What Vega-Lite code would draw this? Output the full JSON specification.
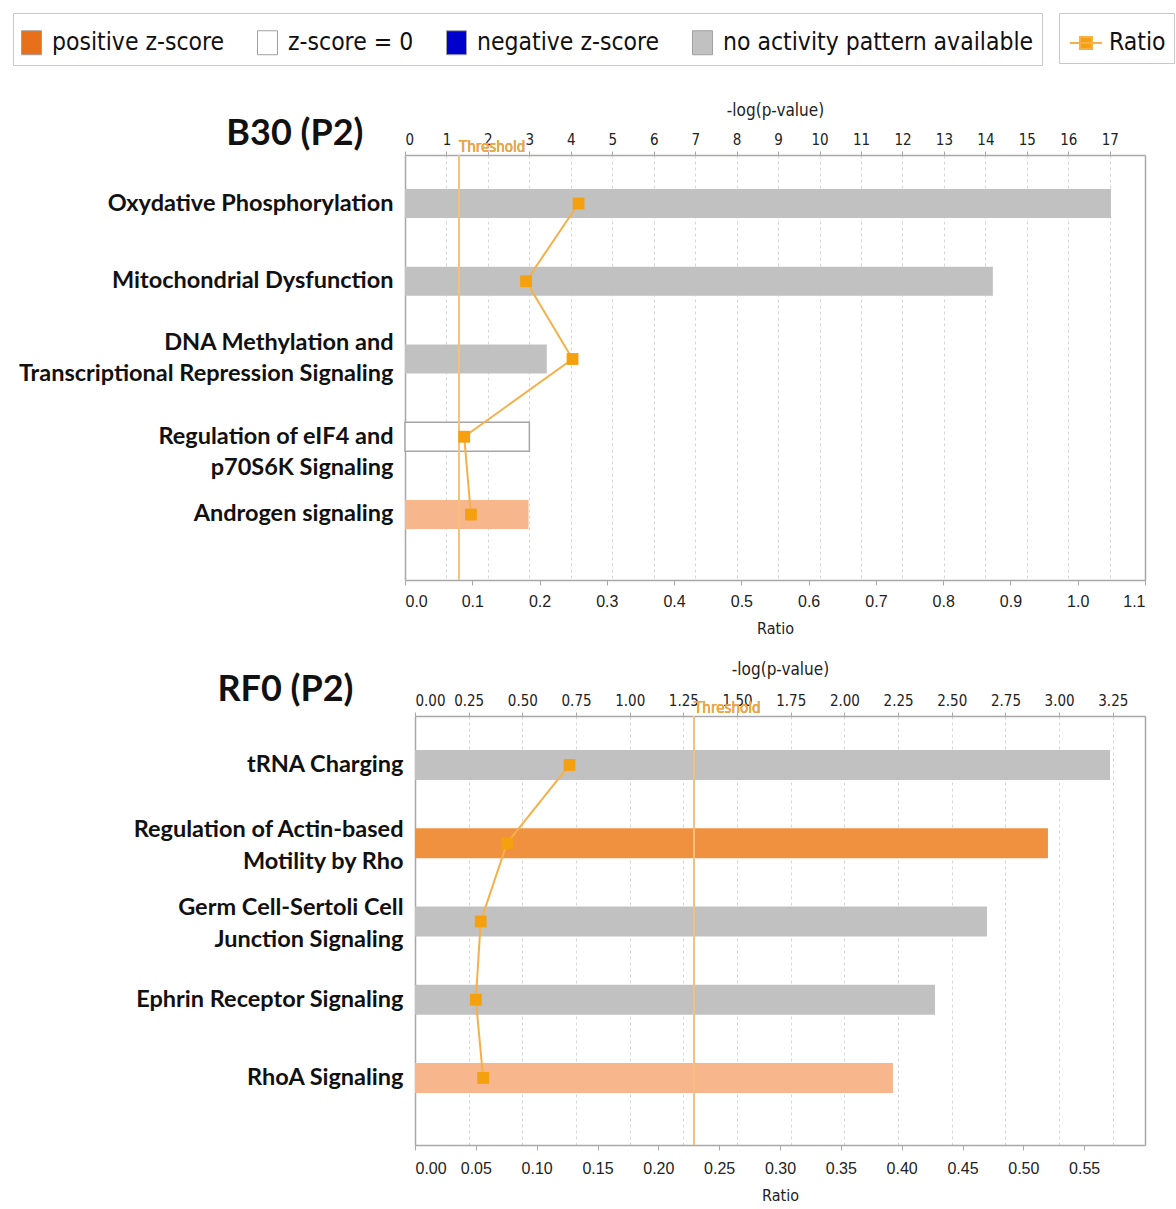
{
  "$schema": "https://vega.github.io/schema/vega-lite/v6.json",
  "background": "white",
  "padding": {"left": 12, "top": 12, "right": 3, "bottom": 4},
  "datasets": {
    "b30": [
      {"pathway": "Oxydative Phosphorylation", "neglogp": 17.03, "ratio": 0.258, "category": "no activity pattern available"},
      {"pathway": "Mitochondrial Dysfunction", "neglogp": 14.18, "ratio": 0.180, "category": "no activity pattern available"},
      {"pathway": "DNA Methylation and Transcriptional Repression Signaling", "neglogp": 3.42, "ratio": 0.249, "category": "no activity pattern available"},
      {"pathway": "Regulation of eIF4 and p70S6K Signaling", "neglogp": 3.0, "ratio": 0.088, "category": "z-score = 0", "zscore": 0},
      {"pathway": "Androgen signaling", "neglogp": 2.98, "ratio": 0.098, "category": "positive z-score", "zscore": 1.0}
    ],
    "rf0": [
      {"pathway": "tRNA Charging", "neglogp": 3.237, "ratio": 0.127, "category": "no activity pattern available"},
      {"pathway": "Regulation of Actin-based Motility by Rho", "neglogp": 2.948, "ratio": 0.0756, "category": "positive z-score", "zscore": 2.2},
      {"pathway": "Germ Cell-Sertoli Cell Junction Signaling", "neglogp": 2.664, "ratio": 0.054, "category": "no activity pattern available"},
      {"pathway": "Ephrin Receptor Signaling", "neglogp": 2.422, "ratio": 0.050, "category": "no activity pattern available"},
      {"pathway": "RhoA Signaling", "neglogp": 2.226, "ratio": 0.056, "category": "positive z-score", "zscore": 1.0}
    ]
  },
  "vconcat": [
    {
      "data": {"name": "b30"},
      "width": 740,
      "height": 425,
      "layer": [
        {
          "layer": [
            {
              "mark": {"type": "bar", "strokeWidth": 1.5},
              "encoding": {
                "y": {
                  "field": "pathway", "type": "nominal", "sort": null,
                  "scale": {"paddingInner": 0.627, "paddingOuter": 0.547, "align": 0.4},
                  "axis": {
                    "orient": "left", "ticks": false, "labelPadding": 12, "labelLimit": 600,
                    "labelFont": "Lato", "labelFontWeight": "bold", "labelFontSize": 23.5, "labelColor": "#111",
                    "labelLineHeight": 31,
                    "labelExpr": "datum.label == 'DNA Methylation and Transcriptional Repression Signaling' ? ['DNA Methylation and', 'Transcriptional Repression Signaling'] : datum.label == 'Regulation of eIF4 and p70S6K Signaling' ? ['Regulation of eIF4 and', 'p70S6K Signaling'] : datum.label",
                    "labelOffset": {"condition": {"test": "datum.label == 'DNA Methylation and Transcriptional Repression Signaling'", "value": -16}, "value": 0},
                    "title": "B30 (P2)", "titleAngle": 0, "titleX": -42, "titleY": -22, "titleAlign": "right", "titleBaseline": "middle",
                    "titleFont": "Lato", "titleFontWeight": "bold", "titleFontSize": 36, "titleColor": "#111"
                  }
                },
                "x": {
                  "field": "neglogp", "type": "quantitative",
                  "scale": {"domain": [0, 17.85], "nice": false, "zero": true},
                  "axis": {
                    "orient": "top", "title": "-log(p-value)",
                    "values": [0, 1, 2, 3, 4, 5, 6, 7, 8, 9, 10, 11, 12, 13, 14, 15, 16, 17],
                    "format": "d", "grid": true, "tickSize": 4, "labelPadding": 4,
                    "labelFont": "DejaVu Sans Condensed", "labelFontSize": 15,
                    "titleFont": "DejaVu Sans Condensed", "titleFontSize": 17, "titleFontWeight": "normal", "titlePadding": 13
                  }
                },
                "fill": {
                  "field": "category", "type": "nominal",
                  "condition": [
                    {"test": "datum.zscore >= 2", "value": "#f0913f"},
                    {"test": "datum.zscore > 0", "value": "#f7b68b"}
                  ],
                  "scale": {
                    "domain": ["positive z-score", "z-score = 0", "negative z-score", "no activity pattern available"],
                    "range": ["#e8701a", "#ffffff", "#0000cc", "#c1c1c1"]
                  },
                  "legend": {
                    "orient": "none", "legendX": -392, "legendY": -142, "direction": "horizontal", "title": null,
                    "symbolType": "M-1,-0.571H-0.048V0.571H-1Z", "symbolSize": 1764, "symbolStrokeColor": "#a0a0a0", "symbolStrokeWidth": 1,
                    "labelFont": "DejaVu Sans Condensed", "labelFontSize": 24.5, "labelColor": "#111", "labelOffset": -12,
                    "columnPadding": 30, "padding": 8, "strokeColor": "#c8c8c8", "fillColor": "#ffffff", "labelLimit": 500
                  }
                },
                "stroke": {"condition": {"test": "datum.category === 'z-score = 0'", "value": "#a6a6a6"}, "value": null}
              }
            },
            {"mark": {"type": "rule", "color": "#f3c27a", "strokeWidth": 1.3}, "encoding": {"x": {"datum": 1.3}}},
            {
              "mark": {"type": "text", "text": "Threshold", "align": "left", "baseline": "bottom", "font": "DejaVu Sans Condensed", "fontSize": 15, "color": "#e9a84a"},
              "encoding": {"x": {"datum": 1.3}, "y": {"value": 0}}
            }
          ]
        },
        {
          "layer": [
            {
              "mark": {"type": "line", "strokeWidth": 2},
              "encoding": {
                "y": {"field": "pathway", "type": "nominal", "sort": null,
                  "axis": {"orient": "right", "labels": false, "ticks": false, "title": null, "domain": true}},
                "x": {
                  "field": "ratio", "type": "quantitative",
                  "scale": {"domain": [0, 1.1], "nice": false, "zero": true},
                  "axis": {
                    "orient": "bottom", "title": "Ratio", "values": [0, 0.1, 0.2, 0.3, 0.4, 0.5, 0.6, 0.7, 0.8, 0.9, 1.0, 1.1],
                    "format": ".1f", "grid": false, "tickSize": 5, "labelPadding": 8,
                    "labelFont": "Liberation Sans", "labelFontSize": 16,
                    "titleFont": "DejaVu Sans Condensed", "titleFontSize": 16, "titleFontWeight": "normal", "titlePadding": 11
                  }
                },
                "stroke": {
                  "datum": "Ratio",
                  "scale": {"range": ["#f5b04a"]},
                  "legend": {
                    "orient": "none", "legendX": 654, "legendY": -142, "title": null,
                    "symbolType": "M-0.905,0H0.62M-0.43,-0.286H0.143V0.286H-0.43Z", "symbolSize": 1764, "symbolStrokeWidth": 2, "symbolFillColor": "#f5a00f",
                    "labelFont": "DejaVu Sans Condensed", "labelFontSize": 24.5, "labelColor": "#111", "labelOffset": -2,
                    "padding": 8, "strokeColor": "#c8c8c8", "fillColor": "#ffffff"
                  }
                },
                "order": {"value": null}
              }
            },
            {
              "mark": {"type": "point", "shape": "square", "filled": true, "size": 140, "color": "#f5a00f", "opacity": 1},
              "encoding": {
                "y": {"field": "pathway", "type": "nominal", "sort": null,
                  "axis": {"orient": "right", "labels": false, "ticks": false, "title": null, "domain": true}},
                "x": {"field": "ratio", "type": "quantitative", "scale": {"domain": [0, 1.1], "nice": false, "zero": true}}
              }
            }
          ]
        }
      ],
      "resolve": {"scale": {"x": "independent"}, "axis": {"x": "independent", "y": "independent"}}
    },
    {
      "data": {"name": "rf0"},
      "width": 740,
      "height": 429,
      "layer": [
        {
          "layer": [
            {
              "mark": {"type": "bar", "strokeWidth": 1.5},
              "encoding": {
                "y": {
                  "field": "pathway", "type": "nominal", "sort": null,
                  "scale": {"paddingInner": 0.617, "paddingOuter": 0.55, "align": 0.395},
                  "axis": {
                    "orient": "left", "offset": -10, "ticks": false, "labelPadding": 12, "labelLimit": 600,
                    "labelFont": "Lato", "labelFontWeight": "bold", "labelFontSize": 23.5, "labelColor": "#111",
                    "labelLineHeight": 32,
                    "labelExpr": "datum.label == 'Regulation of Actin-based Motility by Rho' ? ['Regulation of Actin-based', 'Motility by Rho'] : datum.label == 'Germ Cell-Sertoli Cell Junction Signaling' ? ['Germ Cell-Sertoli Cell', 'Junction Signaling'] : datum.label",
                    "labelOffset": {"condition": {"test": "datum.label == 'Regulation of Actin-based Motility by Rho' || datum.label == 'Germ Cell-Sertoli Cell Junction Signaling'", "value": -13}, "value": 0},
                    "title": "RF0 (P2)", "titleAngle": 0, "titleX": -62, "titleY": -27, "titleAlign": "right", "titleBaseline": "middle",
                    "titleFont": "Lato", "titleFontWeight": "bold", "titleFontSize": 36, "titleColor": "#111"
                  }
                },
                "x": {
                  "field": "neglogp", "type": "quantitative",
                  "scale": {"domain": [0, 3.4], "nice": false, "zero": true, "range": [10, 740]},
                  "axis": {
                    "orient": "top", "title": "-log(p-value)",
                    "values": [0, 0.25, 0.5, 0.75, 1.0, 1.25, 1.5, 1.75, 2.0, 2.25, 2.5, 2.75, 3.0, 3.25],
                    "format": ".2f", "grid": true, "tickSize": 4, "labelPadding": 4,
                    "labelFont": "DejaVu Sans Condensed", "labelFontSize": 15,
                    "titleFont": "DejaVu Sans Condensed", "titleFontSize": 17, "titleFontWeight": "normal", "titlePadding": 15
                  }
                },
                "fill": {
                  "field": "category", "type": "nominal",
                  "condition": [
                    {"test": "datum.zscore >= 2", "value": "#f0913f"},
                    {"test": "datum.zscore > 0", "value": "#f7b68b"}
                  ],
                  "scale": {
                    "domain": ["positive z-score", "z-score = 0", "negative z-score", "no activity pattern available"],
                    "range": ["#e8701a", "#ffffff", "#0000cc", "#c1c1c1"]
                  },
                  "legend": {
                    "orient": "none", "legendX": -392, "legendY": -142, "direction": "horizontal", "title": null,
                    "symbolType": "M-1,-0.571H-0.048V0.571H-1Z", "symbolSize": 1764, "symbolStrokeColor": "#a0a0a0", "symbolStrokeWidth": 1,
                    "labelFont": "DejaVu Sans Condensed", "labelFontSize": 24.5, "labelColor": "#111", "labelOffset": -12,
                    "columnPadding": 30, "padding": 8, "strokeColor": "#c8c8c8", "fillColor": "#ffffff", "labelLimit": 500
                  }
                },
                "stroke": {"condition": {"test": "datum.category === 'z-score = 0'", "value": "#a6a6a6"}, "value": null}
              }
            },
            {"mark": {"type": "rule", "color": "#f3c27a", "strokeWidth": 1.3}, "encoding": {"x": {"datum": 1.3}}},
            {
              "mark": {"type": "text", "text": "Threshold", "align": "left", "baseline": "bottom", "font": "DejaVu Sans Condensed", "fontSize": 15, "color": "#e9a84a"},
              "encoding": {"x": {"datum": 1.3}, "y": {"value": 0}}
            }
          ]
        },
        {
          "layer": [
            {
              "mark": {"type": "line", "strokeWidth": 2},
              "encoding": {
                "y": {"field": "pathway", "type": "nominal", "sort": null,
                  "axis": {"orient": "right", "labels": false, "ticks": false, "title": null, "domain": true}},
                "x": {
                  "field": "ratio", "type": "quantitative",
                  "scale": {"domain": [0, 0.6], "nice": false, "zero": true, "range": [10, 740]},
                  "axis": {
                    "orient": "bottom", "title": "Ratio", "values": [0, 0.05, 0.1, 0.15, 0.2, 0.25, 0.3, 0.35, 0.4, 0.45, 0.5, 0.55],
                    "format": ".2f", "grid": false, "tickSize": 5, "labelPadding": 10,
                    "labelFont": "Liberation Sans", "labelFontSize": 16,
                    "titleFont": "DejaVu Sans Condensed", "titleFontSize": 16, "titleFontWeight": "normal", "titlePadding": 11
                  }
                },
                "stroke": {
                  "datum": "Ratio",
                  "scale": {"range": ["#f5b04a"]},
                  "legend": {
                    "orient": "none", "legendX": 654, "legendY": -142, "title": null,
                    "symbolType": "M-0.905,0H0.62M-0.43,-0.286H0.143V0.286H-0.43Z", "symbolSize": 1764, "symbolStrokeWidth": 2, "symbolFillColor": "#f5a00f",
                    "labelFont": "DejaVu Sans Condensed", "labelFontSize": 24.5, "labelColor": "#111", "labelOffset": -2,
                    "padding": 8, "strokeColor": "#c8c8c8", "fillColor": "#ffffff"
                  }
                },
                "order": {"value": null}
              }
            },
            {
              "mark": {"type": "point", "shape": "square", "filled": true, "size": 140, "color": "#f5a00f", "opacity": 1},
              "encoding": {
                "y": {"field": "pathway", "type": "nominal", "sort": null,
                  "axis": {"orient": "right", "labels": false, "ticks": false, "title": null, "domain": true}},
                "x": {"field": "ratio", "type": "quantitative", "scale": {"domain": [0, 0.6], "nice": false, "zero": true, "range": [10, 740]}}
              }
            }
          ]
        }
      ],
      "resolve": {"scale": {"x": "independent"}, "axis": {"x": "independent", "y": "independent"}}
    }
  ],
  "spacing": 136,
  "bounds": "flush",
  "resolve": {"scale": {"fill": "shared", "stroke": "shared"}, "legend": {"fill": "shared", "stroke": "shared"}},
  "config": {
    "view": {"stroke": null},
    "axis": {
      "domainColor": "#a8a8a8", "domainWidth": 1.5, "tickColor": "#a8a8a8",
      "labelColor": "#222", "titleColor": "#222", "gridColor": "#d6d6d6", "gridDash": [3, 3]
    }
  }
}
